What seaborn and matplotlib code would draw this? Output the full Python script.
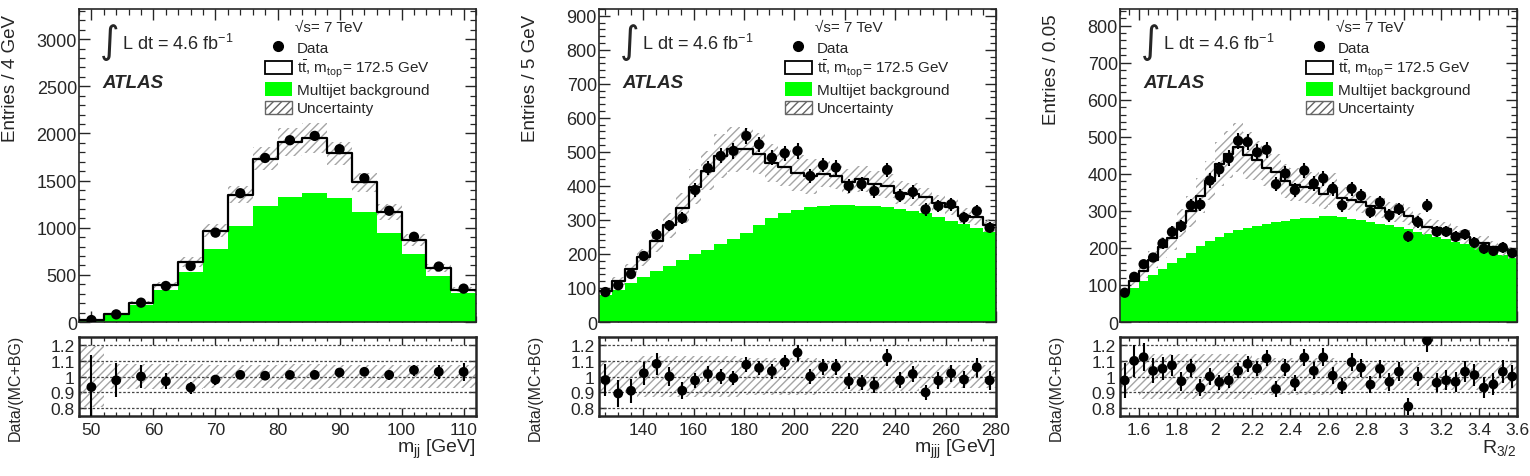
#!/usr/bin/env python3
"""
ATLAS all-hadronic ttbar control distributions: m_jj, m_jjj and R_3/2
with data/(MC+BG) ratio panels.
"""
import numpy as np
import pandas as pd
import matplotlib
matplotlib.use('Agg')
import matplotlib.pyplot as plt
import seaborn as sns
from matplotlib.lines import Line2D
from matplotlib.patches import Patch
from matplotlib.ticker import MultipleLocator, FuncFormatter

sns.set_style('ticks')
plt.rcParams['font.family'] = ['Liberation Sans', 'DejaVu Sans']
plt.rcParams['mathtext.fontset'] = 'custom'
plt.rcParams['mathtext.rm'] = 'Liberation Sans'
plt.rcParams['mathtext.it'] = 'Liberation Sans:italic'
plt.rcParams['mathtext.bf'] = 'Liberation Sans:bold'
plt.rcParams['hatch.linewidth'] = 1.0
plt.rcParams['xtick.direction'] = 'in'
plt.rcParams['ytick.direction'] = 'in'

GREEN = '#00ff00'
HATCH_COL = '#a5a5a5'
HATCH = '////'

# ----------------------------------------------------------------------------
# Panel 1: m_jj (4 GeV bins, 48-112 GeV)
# ----------------------------------------------------------------------------
mjj_range = (48, 112)
mjj_nbins = 16
mjj_data = [21, 81, 205, 382, 594, 948, 1366, 1740, 1928, 1974, 1833, 1525, 1180, 904, 588, 354]
mjj_total = [22.5, 83, 205, 394, 639, 967, 1352, 1731, 1909, 1954, 1788, 1481, 1168, 869, 571, 344]
mjj_bkg = [12, 74, 185, 340, 530, 771, 1020, 1231, 1330, 1373, 1320, 1168, 949, 718, 488, 312]
mjj_unc = [0.19, 0.08, 0.08, 0.08, 0.08, 0.07, 0.07, 0.07, 0.08, 0.08, 0.07, 0.07, 0.07, 0.07, 0.07, 0.07]

# ----------------------------------------------------------------------------
# Panel 2: m_jjj
# ----------------------------------------------------------------------------
mjjj_range = (122.5, 280)
mjjj_nbins = 31
mjjj_data = [88, 108, 141, 194, 256, 284, 305, 388, 452, 488, 503, 547, 522, 483, 496, 503,
             429, 461, 454, 400, 405, 385, 447, 371, 382, 331, 341, 346, 307, 326, 277]
mjjj_total = [90, 121, 155, 190, 237, 284, 335, 398, 445, 488, 508, 509, 495, 467, 455, 437,
              429, 435, 428, 412, 420, 407, 399, 380, 376, 368, 350, 339, 313, 308, 284]
mjjj_bkg = [78, 94, 114, 131, 150, 165, 182, 199, 213, 228, 245, 263, 285, 305, 320, 330,
            337, 341, 344, 344, 342, 341, 338, 333, 326, 320, 310, 298, 287, 276, 265]
mjjj_unc = [0.09, 0.09, 0.10, 0.13, 0.13, 0.13, 0.13, 0.13, 0.13, 0.13, 0.13, 0.12, 0.12, 0.12,
            0.12, 0.12, 0.12, 0.09, 0.09, 0.09, 0.09, 0.09, 0.09, 0.09, 0.09, 0.07, 0.07, 0.07,
            0.07, 0.07, 0.07]

# ----------------------------------------------------------------------------
# Panel 3: R_3/2 (0.05 bins, 1.5-3.6)
# ----------------------------------------------------------------------------
r32_range = (1.5, 3.6)
r32_nbins = 42
r32_data = [79, 122, 156, 174, 212, 243, 259, 315, 317, 382, 412, 442, 489, 486, 458, 465,
            372, 401, 356, 409, 374, 388, 360, 315, 360, 341, 297, 323, 288, 305, 231, 270,
            314, 244, 244, 230, 237, 214, 198, 192, 201, 186]
r32_total = [81, 111, 139, 168, 202, 227, 267, 299, 341, 382, 427, 453, 472, 450, 436, 417,
             404, 380, 371, 365, 361, 346, 358, 335, 330, 323, 313, 308, 298, 296, 285, 270,
             256, 254, 250, 238, 230, 212, 213, 202, 195, 186]
r32_bkg = [74, 92, 112, 127, 142, 158, 172, 186, 205, 218, 230, 240, 248, 254, 259, 265,
           270, 273, 277, 280, 282, 285, 287, 283, 279, 275, 270, 265, 261, 257, 250, 244,
           237, 230, 223, 217, 210, 203, 196, 189, 182, 172]
r32_unc = [0.09, 0.09, 0.14, 0.14, 0.14, 0.14, 0.14, 0.14, 0.14, 0.14, 0.14, 0.14, 0.14, 0.14,
           0.12, 0.12, 0.12, 0.12, 0.12, 0.12, 0.12, 0.12, 0.12, 0.085, 0.085, 0.085, 0.085,
           0.085, 0.085, 0.085, 0.085, 0.085, 0.085, 0.085, 0.085, 0.085, 0.085, 0.085, 0.085,
           0.085, 0.085, 0.085]

panels = [
    dict(rng=mjj_range, nbins=mjj_nbins, data=mjj_data, total=mjj_total, bkg=mjj_bkg,
         unc=mjj_unc, ylabel='Entries / 4 GeV', xlabel=r'm$_{\mathrm{jj}}$ [GeV]',
         ymax=3320, ymaj=500, ymin_=100, xmaj=10, xmin_=2),
    dict(rng=mjjj_range, nbins=mjjj_nbins, data=mjjj_data, total=mjjj_total, bkg=mjjj_bkg,
         unc=mjjj_unc, ylabel='Entries / 5 GeV', xlabel=r'm$_{\mathrm{jjj}}$ [GeV]',
         ymax=920, ymaj=100, ymin_=20, xmaj=20, xmin_=5),
    dict(rng=r32_range, nbins=r32_nbins, data=r32_data, total=r32_total, bkg=r32_bkg,
         unc=r32_unc, ylabel='Entries / 0.05', xlabel=r'R$_{\mathrm{3/2}}$',
         ymax=845, ymaj=100, ymin_=20, xmaj=0.2, xmin_=0.05),
]

# axes geometry in figure pixels (1530 x 477)
W, H = 1530, 477
lefts = [79, 599, 1120]
width_px = 397
main_top, main_bot = 10, 323
rat_top, rat_bot = 338, 417

fig = plt.figure(figsize=(15.3, 4.77), dpi=100)

gfmt = FuncFormatter(lambda v, p: f'{v:g}')

for left, cfg in zip(lefts, panels):
    ax = fig.add_axes([left / W, 1 - main_bot / H, width_px / W, (main_bot - main_top) / H])
    axr = fig.add_axes([left / W, 1 - rat_bot / H, width_px / W, (rat_bot - rat_top) / H])

    edges = np.linspace(cfg['rng'][0], cfg['rng'][1], cfg['nbins'] + 1)
    centers = 0.5 * (edges[1:] + edges[:-1])
    bw = np.diff(edges)
    data = np.asarray(cfg['data'], float)
    total = np.asarray(cfg['total'], float)
    bkg = np.asarray(cfg['bkg'], float)
    unc = np.asarray(cfg['unc'], float)
    err = np.sqrt(data)
    df = pd.DataFrame({'x': centers, 'bkg': bkg, 'total': total, 'data': data,
                       'ratio': data / total})
    bins = list(edges)

    # --- main panel ---
    sns.histplot(data=df, x='x', weights='bkg', bins=bins, element='step', fill=True,
                 color=GREEN, alpha=1, linewidth=0, ax=ax, zorder=1)
    ax.bar(centers, 2 * unc * total, bottom=total * (1 - unc), width=bw, fill=False,
           hatch=HATCH, edgecolor=HATCH_COL, linewidth=0, zorder=2)
    sns.histplot(data=df, x='x', weights='total', bins=bins, element='step', fill=False,
                 color='black', linewidth=1.6, ax=ax, zorder=3)
    ax.errorbar(centers, data, yerr=err, fmt='none', ecolor='black', elinewidth=1.5, zorder=4)
    sns.scatterplot(data=df, x='x', y='data', color='black', s=55, edgecolor='none',
                    ax=ax, zorder=5)

    ax.set_xlim(*cfg['rng'])
    ax.set_ylim(0, cfg['ymax'])
    ax.xaxis.set_major_locator(MultipleLocator(cfg['xmaj']))
    ax.xaxis.set_minor_locator(MultipleLocator(cfg['xmin_']))
    ax.yaxis.set_major_locator(MultipleLocator(cfg['ymaj']))
    ax.yaxis.set_minor_locator(MultipleLocator(cfg['ymin_']))
    ax.tick_params(which='both', top=True, right=True, labelbottom=False)
    ax.tick_params(which='major', length=8, width=1.0, labelsize=13, pad=1.5)
    ax.tick_params(which='minor', length=4, width=0.9)
    ax.set_xlabel('')
    ax.set_ylabel(cfg['ylabel'], fontsize=13.5, loc='top')
    ax.yaxis.set_label_coords(-0.152, 0.985)
    for sp in ax.spines.values():
        sp.set_linewidth(1.2)

    ax.text(0.078, 0.895, '\u222b', transform=ax.transAxes, fontsize=27,
            ha='center', va='center', family=['DejaVu Sans'])
    ax.text(0.108, 0.891, 'L dt = 4.6 fb$^{\\mathrm{-1}}$', transform=ax.transAxes,
            fontsize=13, ha='left', va='center')
    ax.text(0.060, 0.764, 'ATLAS', transform=ax.transAxes, fontsize=13.5,
            fontweight='bold', fontstyle='italic', ha='left', va='center')
    ax.text(0.544, 0.942, '\u221as= 7 TeV', transform=ax.transAxes, fontsize=11,
            ha='left', va='center')

    handles = [
        Line2D([], [], ls='none', marker='o', color='black', markersize=7),
        Patch(facecolor='white', edgecolor='black', linewidth=1.3),
        Patch(facecolor=GREEN, edgecolor='none'),
        Patch(facecolor='white', edgecolor='#666666', hatch=HATCH, linewidth=1.0),
    ]
    labels = ['Data', r't$\bar{\mathrm{t}}$, m$_{\mathrm{top}}$= 172.5 GeV',
              'Multijet background', 'Uncertainty']
    ax.legend(handles, labels, loc='upper left', bbox_to_anchor=(0.4685, 0.902),
              frameon=False, fontsize=11, borderpad=0, borderaxespad=0,
              handlelength=1.76, handleheight=0.95, handletextpad=0.33, labelspacing=0.22)

    # --- ratio panel ---
    rerr = err / total
    axr.bar(centers, 2 * unc, bottom=1 - unc, width=bw, fill=False, hatch=HATCH,
            edgecolor=HATCH_COL, linewidth=0, zorder=1)
    for yv in [0.8, 0.9, 1.0, 1.1, 1.2]:
        axr.axhline(yv, color='#444444', lw=0.9, ls=(0, (2, 1.5)), zorder=2)
    axr.errorbar(centers, df['ratio'], yerr=rerr, fmt='none', ecolor='black',
                 elinewidth=1.5, zorder=3)
    sns.scatterplot(data=df, x='x', y='ratio', color='black', s=50, edgecolor='none',
                    ax=axr, zorder=4)

    axr.set_xlim(*cfg['rng'])
    axr.set_ylim(0.75, 1.25)
    axr.xaxis.set_major_locator(MultipleLocator(cfg['xmaj']))
    axr.xaxis.set_minor_locator(MultipleLocator(cfg['xmin_']))
    axr.yaxis.set_major_locator(MultipleLocator(0.1))
    axr.xaxis.set_major_formatter(gfmt)
    axr.yaxis.set_major_formatter(gfmt)
    axr.tick_params(which='both', top=True, right=True)
    axr.tick_params(axis='x', which='major', length=6, width=1.0, labelsize=12.5, pad=4)
    axr.tick_params(axis='x', which='minor', length=3, width=0.9)
    axr.tick_params(axis='y', which='major', length=5, width=1.0, labelsize=12.5, pad=3)
    axr.set_ylabel('Data/(MC+BG)', fontsize=11.5, loc='top')
    axr.yaxis.set_label_coords(-0.141, 1.04)
    axr.set_xlabel(cfg['xlabel'], fontsize=14, loc='right')
    axr.xaxis.set_label_coords(1.0, -0.26)
    for sp in axr.spines.values():
        sp.set_linewidth(1.8)

fig.savefig('out.png', dpi=100)
